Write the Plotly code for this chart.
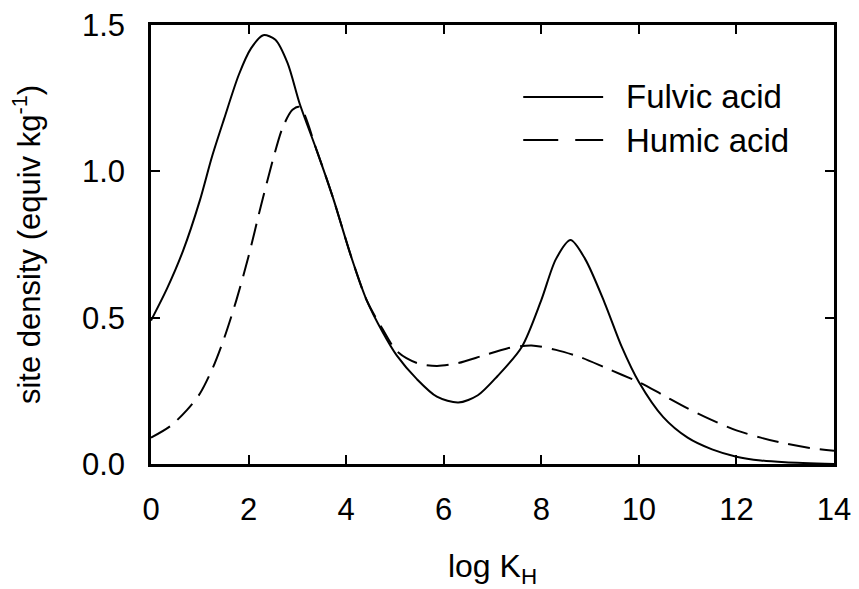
import plotly.graph_objects as go

# Data
log_k_f = [0, 0.33, 0.66, 1.0, 1.25, 1.5, 1.8, 2.05, 2.3, 2.55, 2.8, 3.05, 3.4, 3.73, 4.1, 4.42, 4.75,
           5.04, 5.45, 5.86, 6.3, 6.7, 7.1, 7.6, 8.0, 8.3, 8.6, 8.9, 9.3, 9.65, 10.0, 10.5,
           11.0, 11.5, 12.0, 12.5, 13.0, 14.0]
fulvic = [0.49, 0.60, 0.73, 0.90, 1.05, 1.18, 1.33, 1.42, 1.465, 1.45, 1.37, 1.23, 1.07, 0.91, 0.71, 0.56, 0.45,
          0.37, 0.29, 0.23, 0.21, 0.235, 0.30, 0.40, 0.56, 0.70, 0.765, 0.70, 0.55, 0.40, 0.28, 0.16,
          0.09, 0.05, 0.025, 0.012, 0.006, 0.0]

log_k_h = [0, 0.4, 0.74, 1.0, 1.27, 1.5, 1.75, 2.0, 2.25, 2.5, 2.7, 2.9, 3.05, 3.4, 3.73, 4.1,
           4.42, 4.75, 5.04, 5.45, 5.86, 6.3, 6.8, 7.3, 7.8, 8.3, 8.8, 9.3, 9.65, 10.0, 10.5,
           11.0, 11.5, 12.0, 12.5, 13.0, 13.5, 14.0]
humic = [0.09, 0.13, 0.185, 0.24, 0.33, 0.43, 0.56, 0.71, 0.88, 1.04, 1.15, 1.21, 1.22, 1.07, 0.91, 0.71,
         0.56, 0.46, 0.385, 0.345, 0.335, 0.345, 0.37, 0.395, 0.405, 0.39, 0.365, 0.33, 0.305, 0.28, 0.235,
         0.19, 0.15, 0.115, 0.09, 0.07, 0.055, 0.045]

x_ticks = [0, 2, 4, 6, 8, 10, 12, 14]
y_ticks = [0.0, 0.5, 1.0, 1.5]
y_tick_text = ["0.0", "0.5", "1.0", "1.5"]
series_names = ["Fulvic acid", "Humic acid"]

FONT = "Liberation Sans, Arial, sans-serif"

fig = go.Figure()
fig.add_trace(go.Scatter(x=log_k_f, y=fulvic, mode="lines", name=series_names[0],
                         line=dict(color="black", width=2, shape="spline", smoothing=0.8),
                         showlegend=False))
fig.add_trace(go.Scatter(x=log_k_h, y=humic, mode="lines", name=series_names[1],
                         line=dict(color="black", width=2, dash="22px,10px", shape="spline", smoothing=0.8),
                         showlegend=False))

# manual legend (paper coords)
leg = [(0.836, "solid"), (0.738, "35px,17px")]
for (yy, d), name in zip(leg, series_names):
    fig.add_shape(type="line", xref="paper", yref="paper", x0=0.545, x1=0.662, y0=yy, y1=yy,
                  line=dict(color="black", width=2, dash=d))
    fig.add_annotation(xref="paper", yref="paper", x=0.692, y=yy, text=name, showarrow=False,
                       xanchor="left", yanchor="middle", font=dict(size=33, color="black", family=FONT))

axis_common = dict(showline=True, linecolor="black", linewidth=2.5, mirror="ticks",
                   ticks="inside", ticklen=9, tickwidth=2, tickcolor="black",
                   showgrid=False, zeroline=False, automargin=False,
                   tickfont=dict(size=31, color="black", family=FONT))

fig.update_xaxes(range=[0, 14], tickvals=x_ticks, ticklabelstandoff=16,
                 title=dict(text="log K<sub>H</sub>", font=dict(size=32, color="black", family=FONT),
                            standoff=43),
                 **axis_common)
fig.update_yaxes(range=[0, 1.5], tickvals=y_ticks, ticktext=y_tick_text, ticklabelstandoff=17,
                 title=dict(text="site density (equiv kg<sup>-1</sup>)",
                            font=dict(size=31, color="black", family=FONT), standoff=33),
                 **axis_common)

fig.update_layout(width=859, height=589, margin=dict(l=151, r=25, t=25, b=125),
                  plot_bgcolor="white", paper_bgcolor="white", showlegend=False,
                  font=dict(family=FONT, color="black"))

fig.write_html("out.html")
